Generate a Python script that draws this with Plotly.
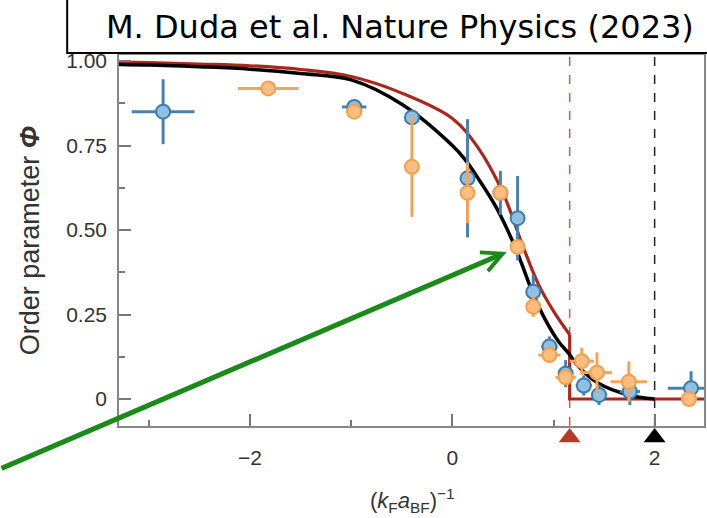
import plotly.graph_objects as go

# ---------------- data ----------------
blue_x = [-2.86, -0.97, -0.40, 0.15, 0.475, 0.645, 0.80, 0.96, 1.12, 1.30, 1.45, 1.755, 2.36]
blue_y = [0.85, 0.864, 0.833, 0.653, 0.61, 0.535, 0.317, 0.155, 0.075, 0.04, 0.012, 0.022, 0.032]
blue_xerr = [0.31, 0.12, 0.03, 0.03, 0.03, 0.03, 0.05, 0.08, 0.06, 0.08, 0.08, 0.10, 0.23]
blue_yerr = [0.096, 0.01, 0.02, 0.175, 0.065, 0.125, 0.05, 0.03, 0.04, 0.03, 0.03, 0.04, 0.05]

orange_x = [-1.82, -0.97, -0.40, 0.15, 0.475, 0.645, 0.80, 0.96, 1.12, 1.28, 1.43, 1.745, 2.34]
orange_y = [0.919, 0.85, 0.687, 0.61, 0.61, 0.45, 0.273, 0.13, 0.064, 0.112, 0.078, 0.051, 0.0]
orange_xerr = [0.30, 0.08, 0.02, 0.02, 0.03, 0.05, 0.05, 0.11, 0.10, 0.12, 0.15, 0.18, 0.08]
orange_yerr = [0.01, 0.01, 0.148, 0.09, 0.02, 0.02, 0.03, 0.02, 0.02, 0.04, 0.06, 0.06, 0.02]

black_x = [-3.3, -3.0, -2.5, -2.0, -1.5, -1.0, -0.5, 0.0, 0.13, 0.25, 0.43, 0.62, 0.8, 0.92, 1.05, 1.15, 1.25, 1.44, 1.74, 2.0]
black_y = [0.99, 0.988, 0.983, 0.976, 0.963, 0.944, 0.872, 0.75, 0.707, 0.655, 0.569, 0.45, 0.31, 0.234, 0.17, 0.135, 0.095, 0.047, 0.012, 0.0]

red_x = [-3.3, -3.0, -2.5, -2.0, -1.5, -1.0, -0.5, 0.0, 0.25, 0.5, 0.7, 0.85, 1.0, 1.16]
red_y = [0.997, 0.995, 0.991, 0.986, 0.975, 0.954, 0.905, 0.83, 0.745, 0.61, 0.45, 0.34, 0.26, 0.19]
red_step_x = [1.16, 1.16, 2.5]
red_step_y = [0.19, 0.0, 0.0]

crit_x = [1.16, 2.0]            # red (mean-field) and black critical points
crit_colors = ["#b8382a", "#000000"]

x_ticks = [-2, 0, 2]
x_ticklabels = ["\u22122", "0", "2"]
y_ticks = [0, 0.25, 0.5, 0.75, 1.0]
y_ticklabels = ["0", "0.25", "0.50", "0.75", "1.00"]

# ---------------- figure ----------------
W, H = 707, 518
L, R, T, B = 119, 1, 55, 40
pw, ph = W - L - R, H - T - B
AXIS_BOTTOM_PX = 426


def px_x(p):
    return (p - L) / pw


def px_y(p):
    return (H - B - p) / ph


main_dom = [px_y(AXIS_BOTTOM_PX), 1.0]
tri_dom = [px_y(448), px_y(427)]

fig = go.Figure()

# dashed critical lines
fig.add_trace(go.Scatter(x=[crit_x[0], crit_x[0]], y=[-0.08, 1.02], mode="lines",
                         line=dict(color="#c0605a", width=1.5, dash="dash"), showlegend=False, hoverinfo="skip"))
fig.add_trace(go.Scatter(x=[crit_x[1], crit_x[1]], y=[-0.08, 1.02], mode="lines",
                         line=dict(color="#222222", width=1.5, dash="dash"), showlegend=False, hoverinfo="skip"))

# theory curves
fig.add_trace(go.Scatter(x=red_x, y=red_y, mode="lines", line=dict(color="#a8281e", width=3.2, shape="spline"),
                         showlegend=False))
fig.add_trace(go.Scatter(x=red_step_x, y=red_step_y, mode="lines", line=dict(color="#a8281e", width=3.2),
                         showlegend=False))
fig.add_trace(go.Scatter(x=black_x, y=black_y, mode="lines", line=dict(color="#000000", width=3.5, shape="spline"),
                         showlegend=False))

# data
fig.add_trace(go.Scatter(
    x=blue_x, y=blue_y, mode="markers",
    marker=dict(size=14, color="#8fc0e2", line=dict(color="#3f7cab", width=2)),
    error_x=dict(type="data", array=blue_xerr, color="#4a80ad", thickness=3, width=0),
    error_y=dict(type="data", array=blue_yerr, color="#4a80ad", thickness=3, width=0),
    showlegend=False))
fig.add_trace(go.Scatter(
    x=orange_x, y=orange_y, mode="markers",
    marker=dict(size=14, color="#fbbe80", line=dict(color="#f0a050", width=2)),
    error_x=dict(type="data", array=orange_xerr, color="#f2a458", thickness=3, width=0),
    error_y=dict(type="data", array=orange_yerr, color="#f2a458", thickness=3, width=0),
    showlegend=False))

# triangles below the axis (separate thin strip sharing the x scale)
fig.add_trace(go.Scatter(x=crit_x, y=[0.5, 0.5], mode="markers", xaxis="x2", yaxis="y2",
                         marker=dict(symbol="triangle-up", size=19, color=crit_colors),
                         showlegend=False))

axis_font = dict(family="Liberation Sans, Arial, sans-serif", size=21, color="#333333")

fig.update_layout(
    xaxis=dict(range=[-3.296, 2.488], tickvals=x_ticks, ticktext=x_ticklabels,
               ticks="inside", ticklen=12, tickcolor="#777777", tickwidth=1.5,
               minor=dict(dtick=1, tick0=-3, ticks="inside", ticklen=6, tickcolor="#777777"),
               showline=True, linecolor="#888888", linewidth=1.5, mirror=True,
               showgrid=False, zeroline=False, tickfont=axis_font, ticklabelstandoff=12,
               anchor="y"),
    yaxis=dict(range=[-0.0799, 1.0178], tickvals=y_ticks, ticktext=y_ticklabels, domain=main_dom,
               ticks="inside", ticklen=12, tickcolor="#777777", tickwidth=1.5,
               minor=dict(dtick=0.125, tick0=0, ticks="inside", ticklen=6, tickcolor="#777777"),
               showline=True, linecolor="#888888", linewidth=1.5, mirror=True,
               showgrid=False, zeroline=False, tickfont=axis_font, ticklabelstandoff=6),
    xaxis2=dict(matches="x", anchor="y2", visible=False, showgrid=False, zeroline=False),
    yaxis2=dict(range=[0, 1], domain=tri_dom, anchor="x2", visible=False, showgrid=False, zeroline=False),
)

# citation box
fig.add_shape(type="rect", xref="paper", yref="paper",
              x0=px_x(67), x1=px_x(715), y0=px_y(53), y1=px_y(-5),
              line=dict(color="#000000", width=2), fillcolor="white", layer="above")

annotations = [
    dict(text="M. Duda et al. Nature Physics (2023)", xref="paper", yref="paper",
         x=px_x(401), y=px_y(27), xanchor="center", yanchor="middle", showarrow=False,
         font=dict(family="DejaVu Sans", size=32, color="#000000")),
    dict(text="Order parameter <b><i>\u03a6</i></b>", xref="paper", yref="paper",
         x=px_x(30), y=px_y(241), xanchor="center", yanchor="middle", textangle=-90, showarrow=False,
         font=dict(family="Liberation Sans, Arial, sans-serif", size=27, color="#333333")),
    dict(text="(<i>k</i><sub>F</sub><i>a</i><sub>BF</sub>)<sup>\u22121</sup>", xref="paper", yref="paper",
         x=px_x(414), y=px_y(500), xanchor="center", yanchor="middle", showarrow=False,
         font=dict(family="Liberation Sans, Arial, sans-serif", size=22, color="#333333")),
    dict(text="", x=0.537, y=0.435, xref="x", yref="y", showarrow=True,
         ax=-530, ay=217, axref="pixel", ayref="pixel",
         arrowhead=5, arrowsize=0.8, arrowwidth=5, arrowcolor="#1a8a1a", standoff=0),
]

fig.update_layout(width=W, height=H, margin=dict(l=L, r=R, t=T, b=B),
                  paper_bgcolor="white", plot_bgcolor="white", annotations=annotations)

fig.write_html("out.html")
